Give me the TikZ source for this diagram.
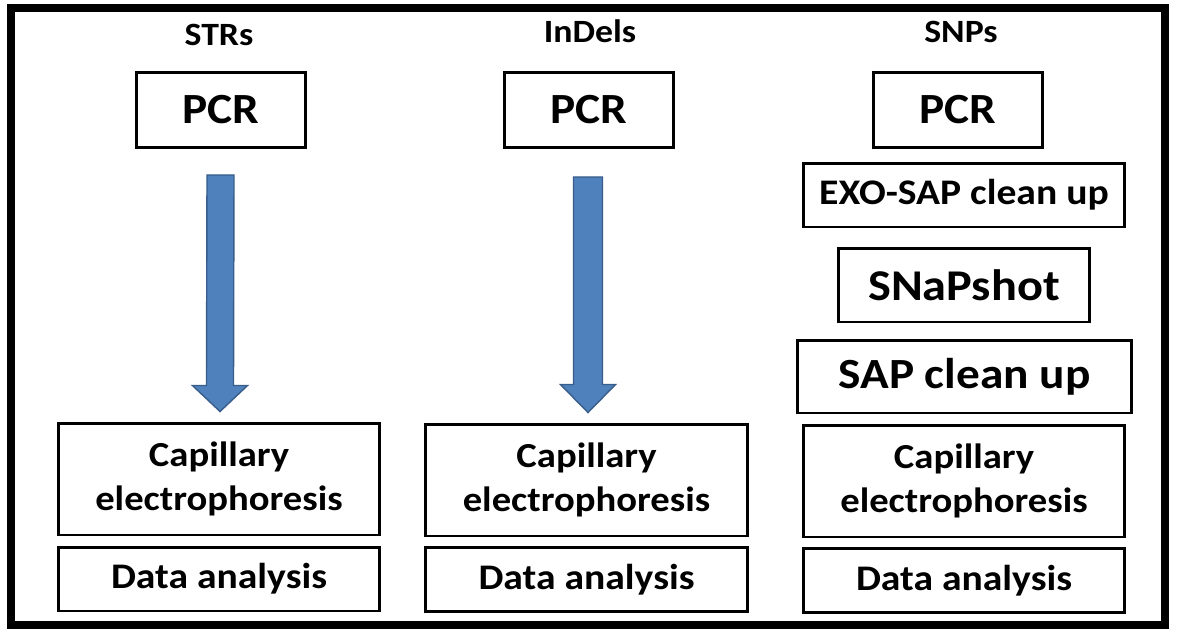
\documentclass[tikz,border=0pt]{standalone}
\usepackage{fontspec}
\setmainfont[FakeStretch=1.1]{Carlito}
\usetikzlibrary{calc}

\tikzset{
  box/.style={draw, line width=1.7pt, inner sep=0pt, align=center, font=\bfseries\fontsize{20}{25}\selectfont},
  head/.style={anchor=base, font=\bfseries\fontsize{18.5}{20}\selectfont},
  blockarrow/.style={line width=0.8pt, line join=miter}
}
\definecolor{arrowfill}{HTML}{4F81BD}
\definecolor{arrowline}{HTML}{385D8A}

\begin{document}
\begin{tikzpicture}[x=0.02cm,y=-0.02cm]
		\useasboundingbox (0,0) rectangle (1177,632);
		\draw[line width=4.5pt] (11,8) rectangle (1165,625);
		% column headings
		\node[head] (hSTR) at (219,45) {STRs};
		\node[head] (hInDel) at (590,42) {InDels};
		\node[head] (hSNP) at (961,42) {SNPs};
		% PCR boxes
		\node[box, minimum width=3.38cm, minimum height=1.5cm, font=\bfseries\fontsize{24.5}{28}\selectfont] (pcrSTR) at (221,110) {PCR};
		\node[box, minimum width=3.38cm, minimum height=1.5cm, font=\bfseries\fontsize{24.5}{28}\selectfont] (pcrInDel) at (589,110) {PCR};
		\node[box, minimum width=3.38cm, minimum height=1.5cm, font=\bfseries\fontsize{24.5}{28}\selectfont] (pcrSNP) at (958,110) {PCR};
		% SNP clean up steps
		\node[box, minimum width=6.44cm, minimum height=1.28cm, font=\bfseries\fontsize{20.5}{22}\selectfont] (exoSNP) at (964,195) {EXO-SAP clean up};
		\node[box, minimum width=5.04cm, minimum height=1.48cm, font=\bfseries\fontsize{25}{28}\selectfont] (snapSNP) at (964,285) {SNaPshot};
		\node[box, minimum width=6.7cm, minimum height=1.46cm, font=\bfseries\fontsize{24.5}{28}\selectfont] (sapSNP) at (964.5,376.5) {SAP clean up};
		% capillary electrophoresis
		\node[box, minimum width=6.44cm, minimum height=2.24cm] (ceSTR) at (219,479) {Capillary\\electrophoresis};
		\node[box, minimum width=6.44cm, minimum height=2.24cm] (ceInDel) at (586.5,480) {Capillary\\electrophoresis};
		\node[box, minimum width=6.44cm, minimum height=2.24cm] (ceSNP) at (964,481) {Capillary\\electrophoresis};
		% data analysis
		\node[box, minimum width=6.44cm, minimum height=1.28cm, font=\bfseries\fontsize{20.5}{22}\selectfont] (daSTR) at (219,579) {Data analysis};
		\node[box, minimum width=6.44cm, minimum height=1.28cm, font=\bfseries\fontsize{20.5}{22}\selectfont] (daInDel) at (586.5,579.5) {Data analysis};
		\node[box, minimum width=6.44cm, minimum height=1.28cm, font=\bfseries\fontsize{20.5}{22}\selectfont] (daSNP) at (964,580.5) {Data analysis};
		% block arrows
		\coordinate (tipSTR) at ($(ceSTR.north)+(1,-10)$);
		\coordinate (tipInDel) at ($(ceInDel.north)+(1.5,-10)$);
		\draw[blockarrow, fill=arrowfill, draw=arrowline] ($(pcrSTR.south)+(-14,26)$) -- ($(pcrSTR.south)+(13,26)$) -- ($(tipSTR)+(13.5,-26)$) -- ($(tipSTR)+(27.5,-26)$) -- (tipSTR) -- ($(tipSTR)+(-27.5,-26)$) -- ($(tipSTR)+(-13.5,-26)$) -- cycle;
		\draw[blockarrow, fill=arrowfill, draw=arrowline] ($(pcrInDel.south)+(-15.5,28)$) -- ($(pcrInDel.south)+(13.5,28)$) -- ($(tipInDel)+(14.5,-28)$) -- ($(tipInDel)+(27.5,-28)$) -- (tipInDel) -- ($(tipInDel)+(-27.5,-28)$) -- ($(tipInDel)+(-14.5,-28)$) -- cycle;
	\end{tikzpicture}
\end{document}
